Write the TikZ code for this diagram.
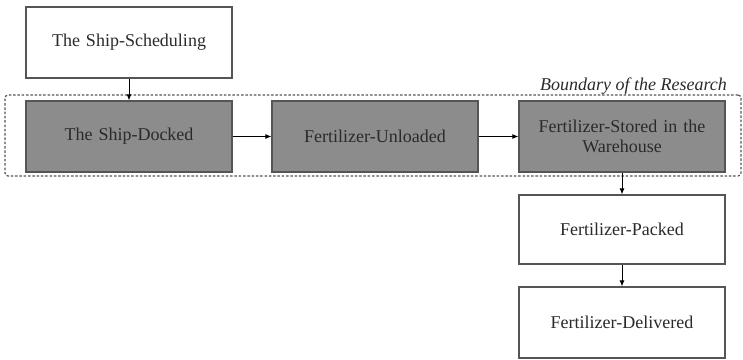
\documentclass[tikz,border=0pt]{standalone}
\usepackage{fontspec}
\setmainfont{Liberation Serif}
\usetikzlibrary{arrows.meta}
\definecolor{boxgray}{HTML}{8C8C8C}
\definecolor{linegray}{HTML}{555555}
\definecolor{txt}{HTML}{2A2A2A}
\tikzset{
  stepbox/.style={draw=linegray, line width=1.3pt, minimum width=206pt, minimum height=71pt, inner sep=0pt, align=center, text=txt, font=\fontsize{18}{20}\selectfont, text width=196pt},
  graybox/.style={stepbox, fill=boxgray},
  whitebox/.style={stepbox, fill=white},
  conn/.style={draw=black, line width=0.8pt, -{Latex[length=6pt,width=5pt]}},
  boundary/.style={draw=linegray, line width=1.2pt, dash pattern=on 2.5pt off 1.8pt, rounded corners=3pt}
}
\begin{document}
\begin{tikzpicture}[x=1pt,y=1pt]
\useasboundingbox (0,0) rectangle (743,-359);
\node[boundary, minimum width=736pt, minimum height=81pt, inner sep=0pt] (bnd) at (373,-135.5) {};
\node[font=\itshape\fontsize{18}{20}\selectfont, text=txt, anchor=base east, inner sep=0pt] (blabel) at (727,-90) {Boundary of the Research};
\node[whitebox] (sched) at (129,-42.5) {The Ship-Scheduling};
\node[graybox] (docked) at (129,-136.5) {The Ship-Docked};
\node[graybox] (unload) at (375,-136.5) {Fertilizer-Unloaded};
\node[graybox] (stored) at (622,-136.5) {Fertilizer-Stored in the\\Warehouse};
\node[whitebox, minimum height=69pt] (packed) at (622,-229.5) {Fertilizer-Packed};
\node[whitebox] (deliv) at (622,-322.5) {Fertilizer-Delivered};
\draw[conn] (sched) -- (docked);
\draw[conn] (docked) -- (unload);
\draw[conn] (unload) -- (stored);
\draw[conn] (stored) -- (packed);
\draw[conn] (packed) -- (deliv);
\end{tikzpicture}
\end{document}
